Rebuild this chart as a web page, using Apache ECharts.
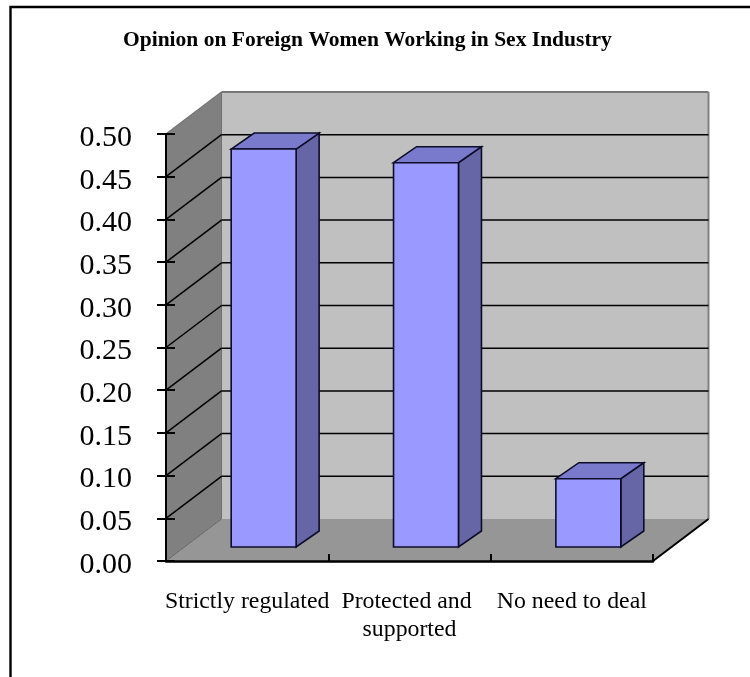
<!DOCTYPE html>
<html>
<head>
<meta charset="utf-8">
<style>html,body{margin:0;padding:0;background:#fff}#chart{width:750px;height:677px}</style>
<script src="https://cdn.jsdelivr.net/npm/echarts@6/dist/echarts.min.js"></script>
</head>
<body>
<div id="chart"></div>
<script>
// Survey shares per answer, drawn as extruded columns in a box.
var categories = ['Strictly regulated', 'Protected and supported', 'No need to deal'];
var shares = [0.466, 0.45, 0.08];
var yTicks = [0, 0.05, 0.10, 0.15, 0.20, 0.25, 0.30, 0.35, 0.40, 0.45, 0.50];
var titleText = 'Opinion on Foreign Women Working in Sex Industry';

// Oblique projection of the box and columns, in pixels.
var BOX_DX = 55.5, BOX_DY = -42;
var BAR_SHIFT_X = 16.5, BAR_SHIFT_Y = -14;
var BAR_DX = 23, BAR_DY = -16;
var BAR_RATIO = 0.4;

var SERIF = '"Liberation Serif", "Times New Roman", serif';

function poly(points, fill, stroke, width) {
  return {
    type: 'polygon',
    shape: { points: points },
    style: { fill: fill, stroke: stroke || null, lineWidth: width || 0 }
  };
}
function seg(x1, y1, x2, y2, stroke, width) {
  return {
    type: 'line',
    shape: { x1: x1, y1: y1, x2: x2, y2: y2 },
    style: { stroke: stroke, lineWidth: width }
  };
}

// Side wall, back wall and floor of the box.
function renderWalls(params) {
  var r = params.coordSys;
  var L = r.x, R = r.x + r.width, T = r.y, B = r.y + r.height;
  var dx = BOX_DX, dy = BOX_DY;
  return {
    type: 'group',
    children: [
      poly([[L + dx, T + dy], [R + dx, T + dy], [R + dx, B + dy], [L + dx, B + dy]], '#c0c0c0'),
      poly([[L, T], [L + dx, T + dy], [L + dx, B + dy], [L, B]], '#808080'),
      poly([[L, B], [L + dx, B + dy], [R + dx, B + dy], [R, B]], '#969696'),
      seg(L, T, L + dx, T + dy, '#777777', 1.5),
      seg(L + dx, T + dy, R + dx, T + dy, '#777777', 2),
      seg(R + dx, T + dy, R + dx, B + dy, '#808080', 2),
      seg(L + dx, T + dy, L + dx, B + dy, '#707070', 1),
      seg(L, B, L + dx, B + dy, '#666666', 1),
      seg(R, B, R + dx, B + dy, '#000000', 2)
    ]
  };
}

// One gridline per tick: across the side wall, then along the back wall.
function renderGrid(params, api) {
  var v = api.value(1);
  if (v === 0 || v === 0.5) return null;
  var r = params.coordSys;
  var y = api.coord([0, v])[1];
  var L = r.x, R = r.x + r.width;
  return {
    type: 'group',
    children: [
      seg(L, y, L + BOX_DX, y + BOX_DY, '#000000', 1.5),
      seg(L + BOX_DX, y + BOX_DY, R + BOX_DX, y + BOX_DY, '#000000', 1.5)
    ]
  };
}

function renderBar(params, api) {
  var base = api.coord([api.value(0), 0]);
  var top = api.coord([api.value(0), api.value(1)]);
  var w = api.size([1, 0])[0] * BAR_RATIO;
  var x0 = base[0] + BAR_SHIFT_X - w / 2, x1 = x0 + w;
  var yb = base[1] + BAR_SHIFT_Y, yt = top[1] + BAR_SHIFT_Y;
  var edge = '#0d0d2a';
  return {
    type: 'group',
    children: [
      poly([[x1, yt], [x1 + BAR_DX, yt + BAR_DY], [x1 + BAR_DX, yb + BAR_DY], [x1, yb]], '#6666a6', edge, 1.6),
      poly([[x0, yt], [x0 + BAR_DX, yt + BAR_DY], [x1 + BAR_DX, yt + BAR_DY], [x1, yt]], '#7a7acc', edge, 1.6),
      poly([[x0, yt], [x1, yt], [x1, yb], [x0, yb]], '#9999ff', edge, 1.6)
    ]
  };
}

var chart = echarts.init(document.getElementById('chart'), null, { renderer: 'canvas' });
chart.setOption({
  animation: false,
  backgroundColor: '#ffffff',
  title: {
    text: titleText,
    left: 118,
    top: 24,
    textStyle: { fontFamily: SERIF, fontSize: 21.5, fontWeight: 'bold', color: '#000000' }
  },
  graphic: [
    { type: 'rect', shape: { x: 10.5, y: 7, width: 800, height: 800 }, style: { fill: null, stroke: '#000000', lineWidth: 2.4 }, z: -1 }
  ],
  grid: { left: 166, right: 97, top: 134, bottom: 116 },
  xAxis: {
    type: 'category',
    data: categories,
    z: 10,
    axisLine: { lineStyle: { color: '#000000', width: 2.5 } },
    axisTick: { show: true, alignWithLabel: false, inside: true, length: 7, lineStyle: { color: '#000000', width: 2 } },
    axisLabel: {
      interval: 0,
      margin: 27,
      width: 172,
      overflow: 'break',
      lineHeight: 28,
      fontFamily: SERIF,
      fontSize: 23.8,
      color: '#000000'
    }
  },
  yAxis: [
    {
      type: 'value',
      min: 0,
      max: 0.5,
      interval: 0.05,
      z: 10,
      splitLine: { show: false },
      axisLine: { show: true, lineStyle: { color: '#000000', width: 2 } },
      axisTick: { show: true, length: 9, lineStyle: { color: '#000000', width: 2 } },
      axisLabel: {
        margin: 34,
        verticalAlign: 'top',
        lineHeight: 8,
        fontFamily: SERIF,
        fontSize: 30,
        color: '#000000',
        formatter: function (v) { return v.toFixed(2); }
      }
    },
    {
      type: 'value',
      position: 'left',
      min: 0,
      max: 0.5,
      interval: 0.05,
      z: 10,
      splitLine: { show: false },
      axisLine: { show: false },
      axisLabel: { show: false },
      axisTick: { show: true, inside: true, length: 9, lineStyle: { color: '#000000', width: 2 } }
    }
  ],
  series: [
    { type: 'custom', z: 1, silent: true, clip: false, renderItem: renderWalls, data: [[0, 0]], encode: { x: 0, y: 1 } },
    { type: 'custom', z: 2, silent: true, clip: false, renderItem: renderGrid,
      data: yTicks.map(function (t) { return [0, t]; }), encode: { x: 0, y: 1 } },
    { type: 'custom', z: 3, silent: true, clip: false, renderItem: renderBar,
      data: shares.map(function (v, i) { return [i, v]; }), encode: { x: 0, y: 1 } }
  ]
});
</script>
</body>
</html>
